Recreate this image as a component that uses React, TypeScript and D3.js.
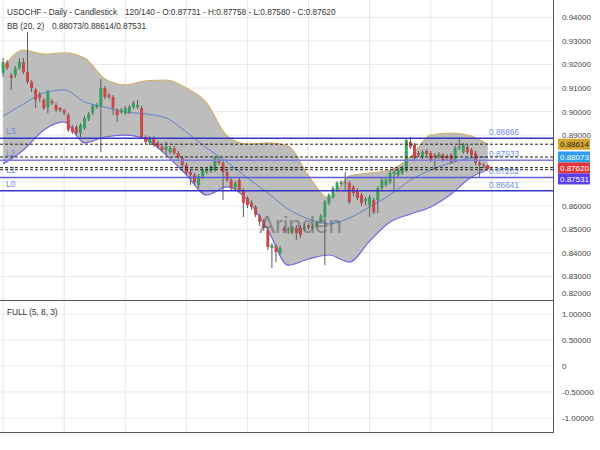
import React from 'react';
import * as d3 from 'd3';

const symbolTitle = 'USDCHF - Daily - Candlestick';
const ohlcTitle = '120/140 - O:0.87731 - H:0.87758 - L:0.87580 - C:0.87620';
const bbTitle = 'BB (20, 2)';
const bbValues = '0.88073/0.88614/0.87531';
const oscTitle = 'FULL (5, 8, 3)';

const opens = [0.9164,0.9210,0.9155,0.9155,0.9185,0.9210,0.9168,0.9126,0.9092,0.9070,0.9049,0.9019,0.9045,0.9028,0.9015,0.9007,0.8985,0.8934,0.8934,0.8909,0.8930,0.8968,0.8994,0.9019,0.9019,0.9100,0.9070,0.9062,0.9007,0.8998,0.8994,0.8998,0.9019,0.9019,0.9015,0.8892,0.8866,0.8888,0.8866,0.8850,0.8837,0.8828,0.8845,0.8824,0.8803,0.8773,0.8743,0.8731,0.8688,0.8722,0.8743,0.8748,0.8752,0.8794,0.8782,0.8743,0.8709,0.8675,0.8709,0.8667,0.8633,0.8612,0.8595,0.8556,0.8535,0.8497,0.8421,0.8429,0.8399,0.8506,0.8497,0.8488,0.8506,0.8506,0.8501,0.8518,0.8506,0.8514,0.8535,0.8552,0.8612,0.8637,0.8667,0.8692,0.8701,0.8697,0.8680,0.8667,0.8646,0.8620,0.8603,0.8624,0.8624,0.8675,0.8688,0.8701,0.8735,0.8731,0.8739,0.8752,0.8871,0.8858,0.8824,0.8807,0.8833,0.8824,0.8816,0.8807,0.8816,0.8811,0.8816,0.8794,0.8845,0.8828,0.8850,0.8837,0.8824,0.8782,0.8773,0.87731];
const highs = [0.9227,0.9219,0.9164,0.9193,0.9227,0.9227,0.9338,0.9134,0.9100,0.9083,0.9058,0.9092,0.9053,0.9036,0.9019,0.9011,0.8994,0.8943,0.8943,0.8951,0.8981,0.8998,0.9032,0.9036,0.9138,0.9109,0.9079,0.9070,0.9015,0.9015,0.9024,0.9028,0.9045,0.9049,0.9024,0.8900,0.8896,0.8896,0.8875,0.8858,0.8871,0.8854,0.8854,0.8833,0.8811,0.8782,0.8752,0.8739,0.8735,0.8760,0.8765,0.8773,0.8811,0.8807,0.8790,0.8752,0.8718,0.8705,0.8718,0.8675,0.8641,0.8624,0.8603,0.8565,0.8544,0.8506,0.8442,0.8438,0.8429,0.8514,0.8510,0.8514,0.8518,0.8518,0.8523,0.8527,0.8523,0.8535,0.8565,0.8624,0.8654,0.8684,0.8705,0.8709,0.8743,0.8705,0.8688,0.8675,0.8654,0.8637,0.8646,0.8633,0.8684,0.8718,0.8718,0.8748,0.8752,0.8760,0.8769,0.8888,0.8892,0.8866,0.8833,0.8837,0.8841,0.8833,0.8824,0.8828,0.8824,0.8820,0.8824,0.8854,0.8888,0.8866,0.8858,0.8845,0.8833,0.8790,0.8782,0.87758];
const lows = [0.9147,0.9177,0.9092,0.9143,0.9177,0.9160,0.9117,0.9083,0.9015,0.9041,0.9007,0.8994,0.9028,0.8998,0.8998,0.8985,0.8913,0.8905,0.8900,0.8892,0.8922,0.8960,0.8985,0.9011,0.8828,0.9053,0.9053,0.8985,0.8956,0.8990,0.8985,0.8990,0.9011,0.9011,0.8883,0.8862,0.8858,0.8850,0.8841,0.8828,0.8816,0.8820,0.8816,0.8799,0.8765,0.8731,0.8688,0.8692,0.8675,0.8714,0.8735,0.8739,0.8743,0.8773,0.8624,0.8701,0.8667,0.8667,0.8658,0.8552,0.8590,0.8582,0.8552,0.8514,0.8493,0.8412,0.8336,0.8361,0.8391,0.8484,0.8480,0.8480,0.8455,0.8463,0.8493,0.8497,0.8497,0.8506,0.8527,0.8348,0.8603,0.8629,0.8658,0.8684,0.8667,0.8607,0.8641,0.8624,0.8599,0.8603,0.8552,0.8565,0.8569,0.8667,0.8680,0.8692,0.8667,0.8722,0.8731,0.8743,0.8841,0.8794,0.8807,0.8799,0.8811,0.8786,0.8752,0.8799,0.8786,0.8794,0.8778,0.8786,0.8837,0.8820,0.8820,0.8807,0.8773,0.8722,0.8760,0.87580];
const closes = [0.9210,0.9185,0.9143,0.9185,0.9210,0.9168,0.9126,0.9100,0.9049,0.9058,0.9015,0.9083,0.9036,0.9007,0.9007,0.8994,0.8922,0.8913,0.8909,0.8943,0.8973,0.8990,0.9024,0.9028,0.9100,0.9062,0.9062,0.9015,0.8985,0.9007,0.9015,0.9019,0.9036,0.9028,0.8892,0.8871,0.8888,0.8858,0.8850,0.8837,0.8850,0.8845,0.8824,0.8807,0.8773,0.8739,0.8731,0.8701,0.8726,0.8752,0.8756,0.8765,0.8803,0.8782,0.8743,0.8709,0.8675,0.8697,0.8667,0.8612,0.8603,0.8595,0.8561,0.8531,0.8506,0.8425,0.8433,0.8404,0.8421,0.8493,0.8501,0.8510,0.8484,0.8476,0.8510,0.8506,0.8514,0.8531,0.8556,0.8616,0.8646,0.8675,0.8697,0.8701,0.8697,0.8616,0.8654,0.8633,0.8612,0.8629,0.8637,0.8573,0.8675,0.8709,0.8709,0.8739,0.8743,0.8752,0.8760,0.8879,0.8850,0.8803,0.8816,0.8828,0.8820,0.8794,0.8807,0.8820,0.8794,0.8803,0.8786,0.8845,0.8850,0.8858,0.8828,0.8816,0.8782,0.8773,0.8769,0.87620];

const bbIndex = [0,5,10,15,20,25,30,35,40,45,50,55,60,65,70,75,80,85,90,95,100,105,110,115,119];
const bbUpper = [0.9185,0.9261,0.9244,0.9249,0.9227,0.9138,0.9113,0.9130,0.9134,0.9100,0.9036,0.8896,0.8862,0.8867,0.8854,0.8726,0.8633,0.8726,0.8739,0.8752,0.8807,0.8900,0.8909,0.8896,0.88614];
const bbMiddle = [0.8981,0.9032,0.9079,0.9092,0.9041,0.9019,0.8998,0.8990,0.8973,0.8913,0.8845,0.8786,0.8718,0.8654,0.8586,0.8544,0.8523,0.8548,0.8595,0.8646,0.8709,0.8752,0.8782,0.8803,0.88073];
const bbLower = [0.8777,0.8837,0.8922,0.8956,0.8867,0.8892,0.8900,0.8883,0.8816,0.8731,0.8646,0.8680,0.8624,0.8497,0.8348,0.8374,0.8391,0.8361,0.8450,0.8531,0.8565,0.8595,0.8650,0.8722,0.87531];

const levelNames = ['L3', 'L2', 'L1', 'L0'];
const levelValues = [0.88866, 0.87933, 0.87202, 0.86641];
const levelLabels = ['0.88866', '0.87933', '0.87202', '0.86641'];
const levelColors = ['#3434c8', '#7d7de4', '#5c5cd8', '#3434c8'];

const markerValues = [0.88614, 0.88073, 0.8762, 0.87531];
const markerLabels = ['0.88614', '0.88073', '0.87620', '0.87531'];
const markerBg = ['#d6a62c', '#2f9cf0', '#e0353a', '#5b3ef0'];
const markerFg = ['#2a2a2a', '#ffffff', '#ffffff', '#ffffff'];

const priceTicks = [0.94, 0.93, 0.92, 0.91, 0.9, 0.89, 0.86, 0.85, 0.84, 0.83, 0.82];
const priceGrid = [0.94, 0.93, 0.92, 0.91, 0.9, 0.89, 0.88, 0.87, 0.86, 0.85, 0.84, 0.83];
const oscTicks = [1, 0.5, 0, -0.5, -1];
const oscTickLabels = ['1.00000', '0.50000', '0', '-0.50000', '-1.00000'];
const gridEvery = 15;

const FONT = '"Liberation Sans", Arial, sans-serif';

export default function App() {
  const n = opens.length;
  const axisX = 553;
  const x = d3.scaleBand<number>().domain(d3.range(n)).range([1.06, 489.8]).paddingInner(0.27).paddingOuter(0.135);
  const step = x.step();
  const bw = x.bandwidth();
  const cx = (i: number) => (x(0) as number) + bw / 2 + i * step;
  const y = d3.scaleLinear().domain([0.82, 0.94737]).range([300, 0]);
  const yo = d3.scaleLinear().domain([-1.27, 1.27]).range([432, 300]);

  const idx = d3.range(bbIndex.length);
  const area = d3.area<number>().x(i => cx(bbIndex[i])).y0(i => y(bbLower[i])).y1(i => y(bbUpper[i])).curve(d3.curveMonotoneX);
  const lineOf = (arr: number[]) => d3.line<number>().x(i => cx(bbIndex[i])).y(i => y(arr[i])).curve(d3.curveMonotoneX)(idx) || '';

  const vGrid = d3.range(0, n + 1, gridEvery).map(cx);

  const markerY: number[] = [];
  markerValues.forEach((v, k) => {
    let yy = y(v);
    if (k > 0 && yy < markerY[k - 1] + 11) yy = markerY[k - 1] + 11;
    markerY.push(yy);
  });

  const tf = 8.25;

  return (
    <svg width={600} height={450} style={{ position: 'fixed', left: 0, top: 0, background: '#fff' }} fontFamily={FONT}>
      <rect x={0} y={0} width={600} height={450} fill="#fff" />
      {priceGrid.map(v => (
        <line key={'hg' + v} x1={0} x2={axisX} y1={y(v)} y2={y(v)} stroke="#e9e9e9" strokeWidth={1} />
      ))}
      {oscTicks.map(v => (
        <line key={'og' + v} x1={0} x2={axisX} y1={yo(v)} y2={yo(v)} stroke="#e9e9e9" strokeWidth={1} />
      ))}
      {vGrid.map((gx, k) => (
        <g key={'vg' + k}>
          <line x1={gx} x2={gx} y1={0} y2={300} stroke="#e6e6e6" strokeWidth={1} />
          <line x1={gx} x2={gx} y1={300} y2={432} stroke="#e6e6e6" strokeWidth={1} />
        </g>
      ))}

      <path d={area(idx) || ''} fill="#bdbdbd" />
      <path d={lineOf(bbUpper)} fill="none" stroke="#d2b06a" strokeWidth={1.2} />
      <path d={lineOf(bbLower)} fill="none" stroke="#7464e6" strokeWidth={1.2} />
      <path d={lineOf(bbMiddle)} fill="none" stroke="#5a86c6" strokeWidth={1} />

      {opens.map((o, i) => {
        const c = closes[i];
        const up = c >= o;
        const top = y(Math.max(o, c));
        const bot = y(Math.min(o, c));
        const xc = cx(i);
        return (
          <g key={'c' + i}>
            <line x1={xc} x2={xc} y1={y(highs[i])} y2={y(lows[i])} stroke="#5a5a5a" strokeWidth={1} />
            <rect x={x(i)} y={top} width={bw} height={Math.max(1, bot - top)} fill={up ? '#3a9e5c' : '#c94848'} />
          </g>
        );
      })}

      {levelValues.map((v, k) => (
        <g key={'lv' + k}>
          <line x1={0} x2={axisX} y1={y(v)} y2={y(v)} stroke={levelColors[k]} strokeWidth={1.4} />
          <text x={6} y={y(v) - 4} fontSize={8.5} fill="#7088e0">{levelNames[k]}</text>
          <text x={489} y={y(v) - 3} fontSize={8.3} fill="#7090e8">{levelLabels[k]}</text>
        </g>
      ))}
      {markerValues.map((v, k) => (
        <line key={'dl' + k} x1={0} x2={axisX} y1={y(v)} y2={y(v)} stroke="#222" strokeWidth={1} strokeDasharray="3,2" />
      ))}
      <circle cx={cx(n - 1)} cy={y(closes[n - 1])} r={1.8} fill="#e0353a" />

      <text x={259} y={233} fontSize={24} fill="#666" opacity={0.6}>Arinden</text>

      <line x1={0} x2={axisX} y1={300.5} y2={300.5} stroke="#555" strokeWidth={1} />
      <line x1={0} x2={axisX} y1={432.5} y2={432.5} stroke="#555" strokeWidth={1} />
      <line x1={axisX + 0.5} x2={axisX + 0.5} y1={0} y2={433} stroke="#555" strokeWidth={1} />

      {priceTicks.map(v => (
        <text key={'pt' + v} x={562} y={Math.min(y(v), 293) + 3} fontSize={8} fill="#444">{v.toFixed(5)}</text>
      ))}
      {markerValues.map((v, k) => (
        <g key={'mk' + k}>
          <rect x={558} y={markerY[k] - 5.5} width={32} height={11} fill={markerBg[k]} />
          <text x={560} y={markerY[k] + 3} fontSize={8} fill={markerFg[k]}>{markerLabels[k]}</text>
        </g>
      ))}
      {oscTicks.map((v, k) => (
        <text key={'ot' + v} x={562} y={yo(v) + 3} fontSize={8} fill="#444">{oscTickLabels[k]}</text>
      ))}

      <text x={7} y={14.5} fontSize={tf} fill="#333">{symbolTitle}</text>
      <text x={125} y={14.5} fontSize={tf} fill="#333">{ohlcTitle}</text>
      <text x={7} y={28.5} fontSize={tf} fill="#333">{bbTitle}</text>
      <text x={52} y={28.5} fontSize={tf} fill="#333">{bbValues}</text>
      <text x={7} y={314.5} fontSize={tf} fill="#333">{oscTitle}</text>
    </svg>
  );
}
